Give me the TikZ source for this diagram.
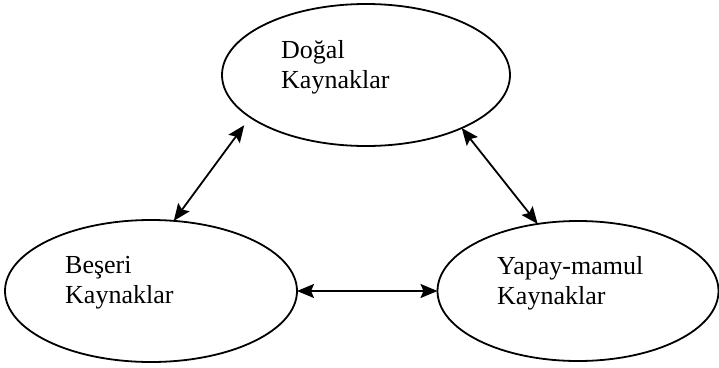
\documentclass[tikz,border=0pt]{standalone}
\usepackage{fontspec}
\setmainfont{Liberation Serif}
\usepackage{tikz}
\usetikzlibrary{arrows.meta,shapes.geometric,positioning}

\begin{document}
\begin{tikzpicture}[x=1pt,y=-1pt,
        res/.style={draw,ellipse,line width=1.8pt,inner sep=0pt,outer sep=0pt},
        lbl/.style={anchor=base west,align=left,inner sep=0pt,font=\fontsize{26pt}{30pt}\selectfont},
        both/.style={line width=1.8pt,{Stealth[length=17pt,width=14pt,inset=3pt]}-{Stealth[length=17pt,width=14pt,inset=3pt]}}]
        \useasboundingbox (0,0) rectangle (719,367);
        \node[res,minimum width=288pt,minimum height=142pt] (dogal) at (366,75) {};
        \node[res,minimum width=292pt,minimum height=142pt] (beseri) at (151,291) {};
        \node[res,minimum width=281pt,minimum height=140pt] (yapay) at (578,291) {};
        \node[lbl] (dogal-t) at (281,88) {Doğal\\Kaynaklar};
        \node[lbl] (beseri-t) at (65,303) {Beşeri\\Kaynaklar};
        \node[lbl] (yapay-t) at (497,304) {Yapay-mamul\\Kaynaklar};
        \draw[both,shorten >=10pt] (beseri.72) -- (dogal.200);
        \draw[both] (dogal.331) -- (yapay.121);
        \draw[both] (beseri.east) -- (yapay.west);
\end{tikzpicture}
\end{document}
